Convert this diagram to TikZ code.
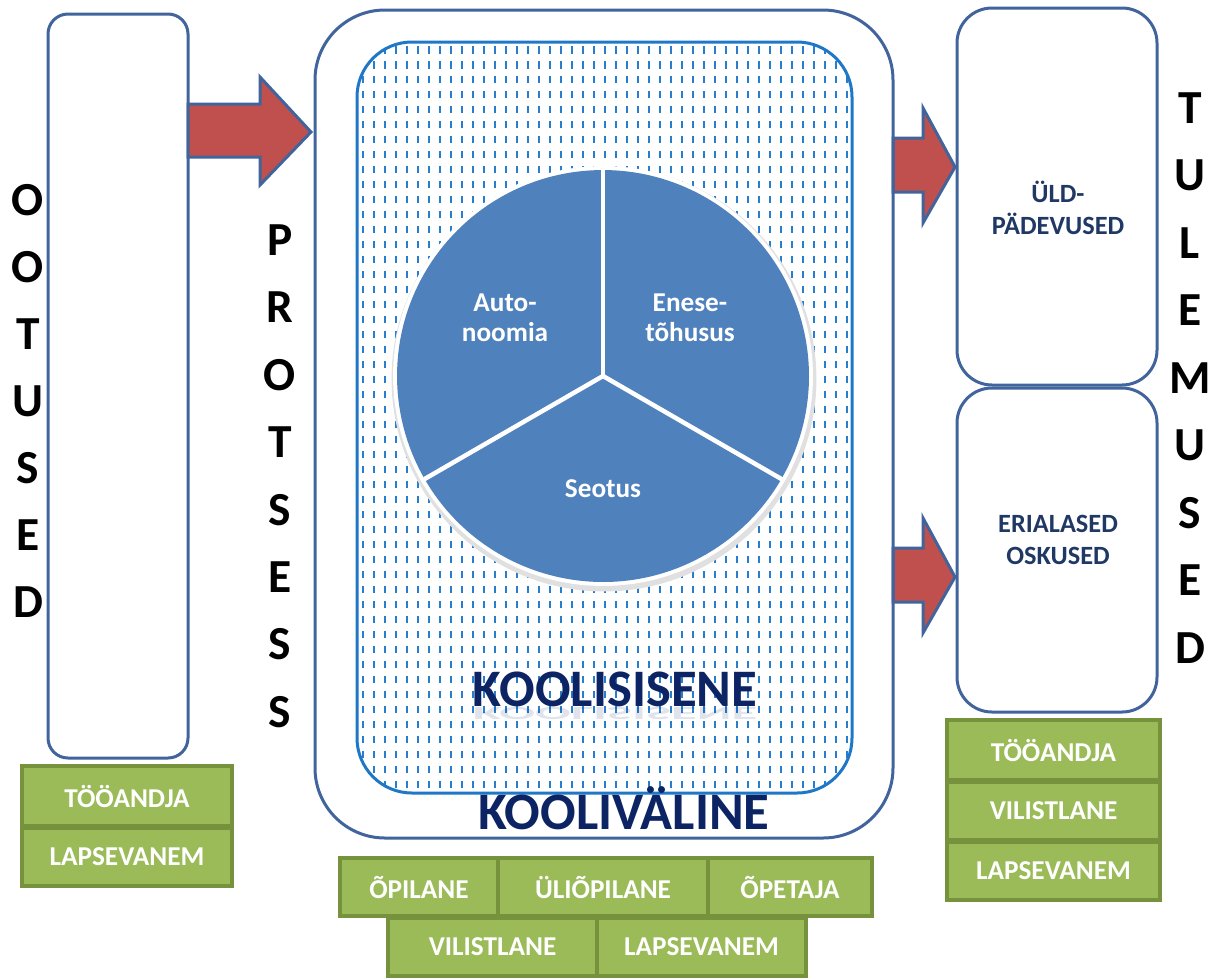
\documentclass[tikz,border=0pt]{standalone}
\usepackage{fontspec}
\setmainfont{Carlito}
\usetikzlibrary{positioning}

\definecolor{frameblue}{RGB}{64,100,155}
\definecolor{arrowred}{RGB}{192,80,77}
\definecolor{innerblue}{RGB}{31,119,200}
\definecolor{dotblue}{RGB}{40,125,205}
\definecolor{pieblue}{RGB}{79,129,189}
\definecolor{navy}{RGB}{12,36,100}
\definecolor{textblue}{RGB}{31,56,100}
\definecolor{leafgreen}{RGB}{155,187,89}
\definecolor{leafedge}{RGB}{118,146,60}

\tikzset{
  frame/.style={draw=frameblue, line width=0.06cm, rounded corners=#1},
  blockarrow/.style={fill=arrowred, draw=frameblue, line width=0.06cm, line join=miter},
  vletter/.style={font=\fontsize{27}{30}\selectfont\bfseries},
  leaf/.style={draw=leafedge, fill=leafgreen, line width=0.08cm, text=white,
    font=\fontsize{15.5}{17}\selectfont\bfseries, inner sep=0pt},
  pietext/.style={text=white, align=center, font=\fontsize{15.5}{17}\selectfont\bfseries},
  boxtext/.style={text=textblue, align=center, font=\fontsize{15}{18}\selectfont\bfseries},
  bigword/.style={text=navy, font=\fontsize{30}{34}\selectfont\bfseries},
}

\begin{document}
\begin{tikzpicture}[x=0.02cm, y=-0.02cm]
  \useasboundingbox (0,0) rectangle (1227,978);

  % ootused
  \draw[frame=0.4cm] (48,14) rectangle (188,758);
  \foreach \l [count=\i] in {O,O,T,U,S,E,D}
    \node[vletter] (ootus\i) at (28,{200+67*(\i-1)}) {\l};
  \node[leaf, minimum width=4.2cm, minimum height=1.2cm] (leftTA) at (127,796) {TÖÖANDJA};
  \node[leaf, minimum width=4.2cm, minimum height=1.16cm] (leftLV) at (127,857) {LAPSEVANEM};

  % arrows
  \draw[blockarrow] (188,104) -- (260,104) -- (260,77) -- (311,132) -- (260,185) -- (260,157) -- (188,157) -- cycle;
  \draw[blockarrow] (893,138) -- (923,138) -- (923,108) -- (955,167) -- (923,223) -- (923,192) -- (893,192) -- cycle;
  \draw[blockarrow] (893,548) -- (923,548) -- (923,518) -- (955,577) -- (923,633) -- (923,602) -- (893,602) -- cycle;

  % protsess
  \foreach \l [count=\i] in {P,R,O,T,S,E,S,S}
    \node[vletter] (prots\i) at (280,{240+67.4*(\i-1)}) {\l};
  \draw[frame=1.4cm] (315,10) rectangle (893,838);

  % koolisisene, dotted
  \begin{scope}
    \clip[rounded corners=1.1cm] (357,42) rectangle (852,793);
    \foreach \x in {363,374,...,852}
      \draw[dotblue, line width=0.04cm, dash pattern=on 0.15cm off 0.15cm] (\x,46) -- (\x,793);
  \end{scope}
  \draw[innerblue, line width=0.06cm, rounded corners=1.1cm] (357,42) rectangle (852,793);

  % pie
  \begin{scope}[shift={(603,376)}, x=1cm, y=1cm]
    \fill[black!12] (0.02,-0.06) circle (4.25);
    \fill[white] (0,0) circle (4.2);
    \foreach \a in {90,210,330}
      \fill[pieblue] (0,0) -- (\a:4.12) arc[start angle=\a, end angle=\a+120, radius=4.12] -- cycle;
    \foreach \a in {90,210,330}
      \draw[white, line width=0.09cm] (0,0) -- (\a:4.15);
    \node[pietext] (autonoomia) at (-1.96,1.16) {Auto-\\noomia};
    \node[pietext] (enesetohusus) at (1.74,1.16) {Enese-\\tõhusus};
    \node[pietext] (seotus) at (0,-2.26) {Seotus};
  \end{scope}

  \node[bigword, yscale=-0.35, opacity=0.13] (sisenemirror) at (615,713) {KOOLISISENE};
  \node[bigword] (sisene) at (615,689) {KOOLISISENE};
  \node[bigword] (valine) at (624,808) {KOOLIVÄLINE};

  % bottom row
  \node[leaf, minimum width=3.16cm, minimum height=1.16cm] (opilane) at (419,887) {ÕPILANE};
  \node[leaf, minimum width=4.2cm, minimum height=1.16cm] (uliopilane) at (603,887) {ÜLIÕPILANE};
  \node[leaf, minimum width=3.28cm, minimum height=1.16cm] (opetaja) at (790,887) {ÕPETAJA};
  \node[leaf, minimum width=4.18cm, minimum height=1.16cm] (midVL) at (492.5,946.5) {VILISTLANE};
  \node[leaf, minimum width=4.18cm, minimum height=1.16cm] (midLV) at (701.5,946.5) {LAPSEVANEM};

  % tulemused
  \draw[frame=0.7cm] (957,8) rectangle (1157,385);
  \draw[frame=0.7cm] (957,388) rectangle (1157,712);
  \node[boxtext] (uld) at (1058,208) {ÜLD-\\PÄDEVUSED};
  \node[boxtext] (eriala) at (1058,540) {ERIALASED\\OSKUSED};
  \foreach \l [count=\i] in {T,U,L,E,M,U,S,E,D}
    \node[vletter] (tulem\i) at (1190,{108+67.5*(\i-1)}) {\l};
  \node[leaf, minimum width=4.26cm, minimum height=1.2cm] (rightTA) at (1053.5,750) {TÖÖANDJA};
  \node[leaf, minimum width=4.26cm, minimum height=1.16cm] (rightVL) at (1053.5,811) {VILISTLANE};
  \node[leaf, minimum width=4.26cm, minimum height=1.16cm] (rightLV) at (1053.5,871) {LAPSEVANEM};
\end{tikzpicture}
\end{document}
